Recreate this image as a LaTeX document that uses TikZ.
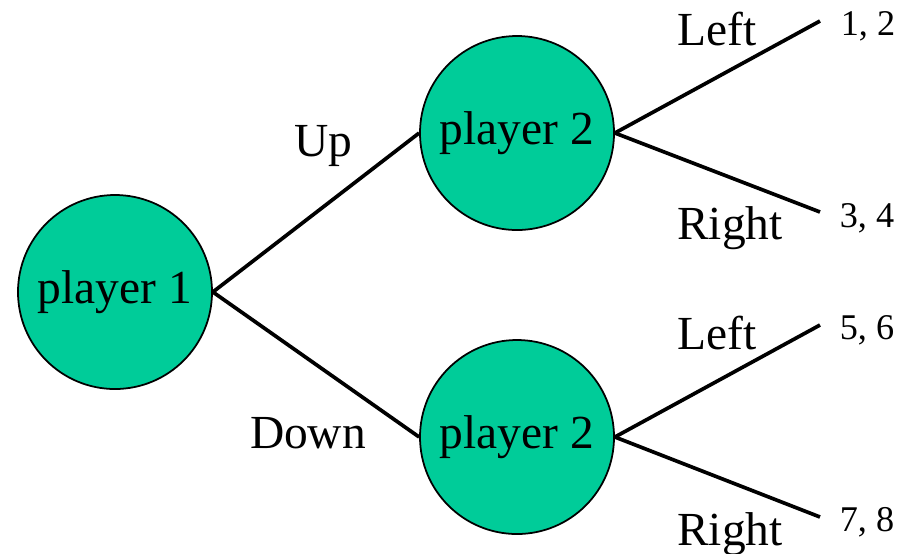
\documentclass[tikz,border=0pt]{standalone}
\usepackage{fontspec}
\setmainfont{Liberation Serif}
\usepackage{tikz}
\definecolor{playergreen}{RGB}{0,204,153}

\begin{document}
\begin{tikzpicture}[
	player/.style={circle, draw=black, line width=0.5pt, fill=playergreen, minimum size=1.94cm, inner sep=0pt, font=\fontsize{13.5}{16}\selectfont},
	move/.style={line width=1.05pt},
	movelabel/.style={anchor=base, inner sep=0pt, font=\fontsize{13.5}{16}\selectfont},
	payoff/.style={anchor=base, inner sep=0pt, font=\fontsize{10.3}{12}\selectfont}]
			%%%%% START %%%%%
			
			\useasboundingbox (0, 0) rectangle (8.99, 5.53);
			
			\node[player] (p1) at (1.15, 2.61) {player 1};
			\node[player] (p2up) at (5.17, 4.20) {player 2};
			\node[player] (p2down) at (5.17, 1.16) {player 2};
			
			\coordinate (leaf1) at (8.20, 5.32);
			\coordinate (leaf2) at (8.20, 3.41);
			\coordinate (leaf3) at (8.20, 2.28);
			\coordinate (leaf4) at (8.20, 0.36);
			
			\draw[move] (p1.east) -- (p2up.west);
			\draw[move] (p1.east) -- (p2down.west);
			\draw[move] (p2up.east) -- (leaf1);
			\draw[move] (p2up.east) -- (leaf2);
			\draw[move] (p2down.east) -- (leaf3);
			\draw[move] (p2down.east) -- (leaf4);
			
			\node[movelabel] (up) at (3.23, 3.97) {Up};
			\node[movelabel] (down) at (3.08, 1.05) {Down};
			\node[movelabel] (leftup) at (7.17, 5.08) {Left};
			\node[movelabel] (rightup) at (7.30, 3.14) {Right};
			\node[movelabel] (leftdown) at (7.17, 2.04) {Left};
			\node[movelabel] (rightdown) at (7.30, 0.08) {Right};
			
			\node[payoff] (pay1) at (8.68, 5.18) {1, 2};
			\node[payoff] (pay2) at (8.67, 3.26) {3, 4};
			\node[payoff] (pay3) at (8.67, 2.14) {5, 6};
			\node[payoff] (pay4) at (8.67, 0.22) {7, 8};
			
			%%%%% END %%%%%
		\end{tikzpicture}
\end{document}
